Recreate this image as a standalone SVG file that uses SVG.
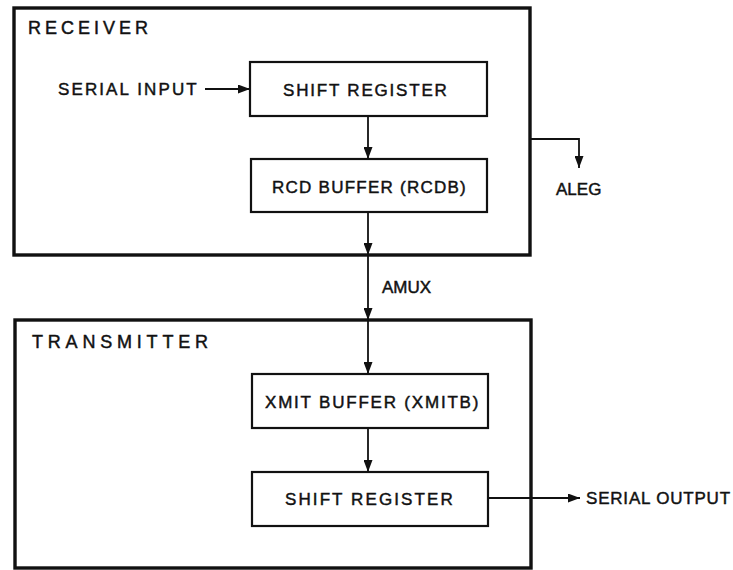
<svg xmlns="http://www.w3.org/2000/svg" width="733" height="570" viewBox="0 0 733 570">
<style>
  text { font-family: "Liberation Sans", Arial, sans-serif; font-size: 17px; fill: #111; stroke: #111; stroke-width: 0.45; }
  .outer { fill: none; stroke: #111; stroke-width: 3.4; }
  .inner { fill: #fff; stroke: #111; stroke-width: 2.2; }
  .title { font-size: 18px; letter-spacing: 4px; }
  .conn { fill: none; stroke: #111; stroke-width: 1.8; }
</style>
<defs>
  <marker id="arr" markerUnits="userSpaceOnUse" markerWidth="13" markerHeight="9" refX="12" refY="4.5" orient="auto">
    <path d="M0,0 L12,4.5 L0,9 Z" fill="#111"/>
  </marker>
</defs>
<rect width="733" height="570" fill="#fff"/>

<g id="receiver">
  <rect class="outer" x="14" y="8" width="516" height="247"/>
  <text class="title" x="28" y="34">RECEIVER</text>
</g>
<g id="transmitter">
  <rect class="outer" x="15" y="320" width="516" height="248"/>
  <text class="title" x="32" y="348" style="letter-spacing:4.8px">TRANSMITTER</text>
</g>

<g id="rx-shift-register">
  <rect class="inner" x="250" y="62" width="237" height="54"/>
  <text x="283" y="96" style="letter-spacing:1.8px">SHIFT REGISTER</text>
</g>
<g id="rcd-buffer">
  <rect class="inner" x="251" y="159" width="236" height="53"/>
  <text x="272" y="193" style="letter-spacing:1.25px">RCD BUFFER (RCDB)</text>
</g>
<g id="xmit-buffer">
  <rect class="inner" x="252" y="374" width="236" height="54"/>
  <text x="265" y="408" style="letter-spacing:1.8px">XMIT BUFFER (XMITB)</text>
</g>
<g id="tx-shift-register">
  <rect class="inner" x="252" y="472" width="236" height="54"/>
  <text x="285" y="505" style="letter-spacing:2.1px">SHIFT REGISTER</text>
</g>

<g id="labels">
  <text x="58" y="95" style="letter-spacing:2.1px">SERIAL INPUT</text>
  <text x="556" y="195">ALEG</text>
  <text x="382" y="293">AMUX</text>
  <text x="586" y="504" style="letter-spacing:0.8px">SERIAL OUTPUT</text>
</g>

<g id="connectors">
  <line class="conn" x1="205" y1="89" x2="250" y2="89" marker-end="url(#arr)"/>
  <line class="conn" x1="368" y1="116" x2="368" y2="159" marker-end="url(#arr)"/>
  <line class="conn" x1="368" y1="212" x2="368" y2="255" marker-end="url(#arr)"/>
  <line class="conn" x1="368" y1="255" x2="368" y2="320" marker-end="url(#arr)"/>
  <line class="conn" x1="368" y1="320" x2="368" y2="374" marker-end="url(#arr)"/>
  <path class="conn" d="M530,139 H579 V168" marker-end="url(#arr)"/>
  <line class="conn" x1="368" y1="428" x2="368" y2="472" marker-end="url(#arr)"/>
  <line class="conn" x1="488" y1="498" x2="580" y2="498" marker-end="url(#arr)"/>
</g>
</svg>
